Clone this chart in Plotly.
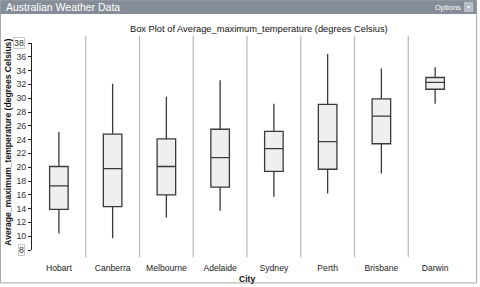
import plotly.graph_objects as go

# values (degrees Celsius)
cities = ["Hobart", "Canberra", "Melbourne", "Adelaide", "Sydney", "Perth", "Brisbane", "Darwin"]
low = [10.4, 9.7, 12.7, 13.7, 15.7, 16.2, 19.1, 29.2]
q1 = [13.9, 14.3, 16.0, 17.1, 19.4, 19.7, 23.4, 31.3]
med = [17.3, 19.8, 20.1, 21.4, 22.7, 23.7, 27.4, 32.3]
q3 = [20.1, 24.8, 24.1, 25.5, 25.2, 29.1, 29.9, 33.0]
high = [25.1, 32.1, 30.2, 32.6, 29.2, 36.4, 34.3, 34.5]
y_ticks = [10, 12, 14, 16, 18, 20, 22, 24, 26, 28, 30, 32, 34, 36]
y_ends = [8, 38]

FONT = "Arial, Liberation Sans, sans-serif"

fig = go.Figure()
fig.add_trace(go.Box(
    x=cities, q1=q1, median=med, q3=q3, lowerfence=low, upperfence=high,
    width=0.345, fillcolor="#efefef", line=dict(color="#3a3a3a", width=1.3),
    whiskerwidth=0, boxpoints=False, showlegend=False, hoverinfo="y",
))

shapes = []
# grey separators between the cities
for i in range(1, len(cities)):
    shapes.append(dict(type="line", xref="x domain", yref="paper",
                       x0=i / len(cities), x1=i / len(cities), y0=-0.035, y1=1.035,
                       line=dict(color="#b8b8b8", width=1.2), layer="below"))
# frame and header bar
shapes.append(dict(type="rect", xref="paper", yref="paper", x0=-0.0733, x1=1.034,
                   y0=-0.159, y1=1.206, line=dict(color="#a8a8a8", width=1), layer="below"))
shapes.append(dict(type="rect", xref="paper", yref="paper", x0=-0.0733, x1=1.034,
                   y0=1.140, y1=1.206, fillcolor="#858e98", line=dict(width=0), layer="below"))
shapes.append(dict(type="rect", xref="paper", yref="paper", x0=1.006, x1=1.025,
                   y0=1.152, y1=1.196, fillcolor="#b4bbc2", line=dict(color="#e0e0e0", width=0.5)))

annotations = [
    dict(text="Australian Weather Data", xref="paper", yref="paper", x=-0.066, y=1.173,
         xanchor="left", yanchor="middle", showarrow=False,
         font=dict(family=FONT, size=10.5, color="white")),
    dict(text="Options", xref="paper", yref="paper", x=1.002, y=1.171,
         xanchor="right", yanchor="middle", showarrow=False,
         font=dict(family=FONT, size=7.5, color="white")),
    dict(text="▼", xref="paper", yref="paper", x=1.0155, y=1.175,
         xanchor="center", yanchor="middle", showarrow=False,
         font=dict(family=FONT, size=5, color="white")),
    dict(text="Box Plot of Average_maximum_temperature (degrees Celsius)", xref="paper", yref="paper",
         x=0.529, y=1.066, xanchor="center", yanchor="middle", showarrow=False,
         font=dict(family=FONT, size=9.3, color="#111")),
    dict(text="<b>Average_maximum_temperature (degrees Celsius)</b>", xref="paper", yref="paper",
         x=-0.055, y=0.52, textangle=-90, xanchor="center", yanchor="middle", showarrow=False,
         font=dict(family=FONT, size=8.6, color="#111")),
    dict(text="<b>City</b>", xref="paper", yref="paper", x=0.5, y=-0.14,
         xanchor="center", yanchor="middle", showarrow=False,
         font=dict(family=FONT, size=8.6, color="#111")),
]
for v in y_ends:
    annotations.append(dict(text=str(v), xref="paper", yref="y", x=-0.0165, y=v,
                            xanchor="right", yanchor="middle", showarrow=False,
                            bordercolor="#c8c8c8", borderwidth=1, borderpad=0,
                            font=dict(family=FONT, size=8.8, color="#333")))

fig.update_layout(
    width=480, height=287,
    margin=dict(l=32, r=18, t=43, b=37),
    paper_bgcolor="white", plot_bgcolor="white",
    shapes=shapes, annotations=annotations,
    font=dict(family=FONT, size=8.8, color="#222"),
)
fig.update_yaxes(range=[8, 38], tickvals=y_ends + y_ticks,
                 ticktext=[""] * len(y_ends) + [str(t) for t in y_ticks],
                 ticks="outside", ticklen=3, tickcolor="#222", showgrid=False, zeroline=False,
                 showline=True, linecolor="#222", linewidth=1,
                 tickfont=dict(family=FONT, size=8.8, color="#333"))
fig.update_xaxes(range=[-0.5, 7.5], showgrid=False, zeroline=False, showline=False,
                 ticks="", ticklabelstandoff=11,
                 tickfont=dict(family=FONT, size=8.6, color="#222"))

# the page body has a default 8px margin; drop it so the chart sits at the window corner
fig.write_html("out.html", config={"displayModeBar": False},
               post_script="document.body.style.margin='0';")
